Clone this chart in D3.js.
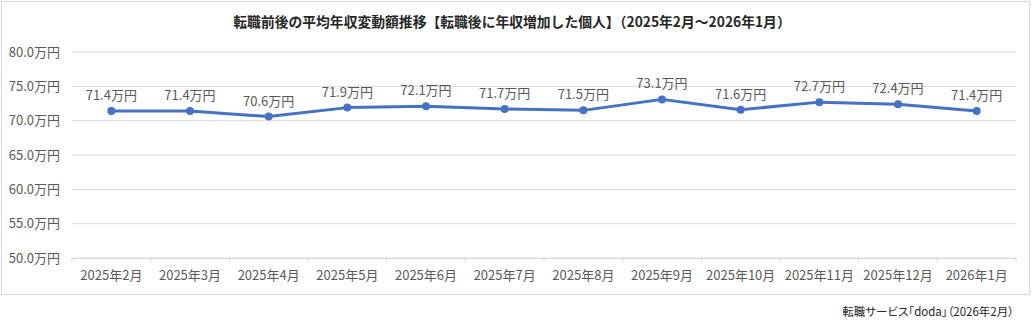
<!DOCTYPE html>
<html><head><meta charset="utf-8">
<script src="https://cdn.jsdelivr.net/npm/d3@7"></script>
<style>body{margin:0;background:#fff}svg{display:block}text{font-family:"Noto Sans CJK JP","Noto Sans",sans-serif}</style>
</head><body><svg id="c" width="1032" height="328"></svg>
<script>
const categories=["2025年2月","2025年3月","2025年4月","2025年5月","2025年6月","2025年7月","2025年8月","2025年9月","2025年10月","2025年11月","2025年12月","2026年1月"];
const values=[71.4,71.4,70.6,71.9,72.1,71.7,71.5,73.1,71.6,72.7,72.4,71.4];
const yTicks=[50,55,60,65,70,75,80];
const title="転職前後の平均年収変動額推移【転職後に年収増加した個人】（2025年2月～2026年1月）";
const source="転職サービス「doda」（2026年2月）";

const svg=d3.select("#c");
svg.append("rect").attr("x",1.5).attr("y",1.5).attr("width",1028).attr("height",293).attr("fill","#fff").attr("stroke","#d9d9d9");
const L=72,R=1016,T=52,B=258;
const x=d3.scaleBand().domain(categories).range([L,R]);
const y=d3.scaleLinear().domain([50,80]).range([B,T]);
const fmt=v=>v.toFixed(1)+"万円";

svg.append("g").selectAll("line").data(yTicks).join("line")
 .attr("x1",L).attr("x2",R).attr("y1",d=>y(d)).attr("y2",d=>y(d))
 .attr("stroke","#d9d9d9").attr("stroke-width",1);
svg.append("g").selectAll("text").data(yTicks).join("text")
 .attr("x",60).attr("y",d=>y(d)).attr("dy","0.35em").attr("text-anchor","end")
 .attr("font-size",13).attr("fill","#595959").text(fmt);
const xa=svg.append("g").attr("transform",`translate(0,${B})`)
 .call(d3.axisBottom(x).tickSize(0).tickPadding(13));
xa.select(".domain").attr("stroke","#d9d9d9");
xa.selectAll("text").attr("font-size",13).attr("fill","#595959").attr("font-family",'"Noto Sans CJK JP",sans-serif');
const bounds=categories.map(c=>x(c)).concat([R]);
svg.append("g").selectAll("line").data(bounds).join("line")
 .attr("x1",d=>d).attr("x2",d=>d).attr("y1",B).attr("y2",B+5).attr("stroke","#d9d9d9");

const cx=(d,i)=>x(categories[i])+x.bandwidth()/2;
svg.append("path").datum(values).attr("fill","none").attr("stroke","#4472C4").attr("stroke-width",3).attr("stroke-linejoin","round")
 .attr("d",d3.line().x((d,i)=>cx(d,i)).y(d=>y(d)));
svg.append("g").selectAll("circle").data(values).join("circle")
 .attr("cx",cx).attr("cy",d=>y(d)).attr("r",4).attr("fill","#4472C4");
svg.append("g").selectAll("text").data(values).join("text")
 .attr("x",cx).attr("y",d=>y(d)-11).attr("text-anchor","middle")
 .attr("font-size",13).attr("fill","#595959").text(fmt);

svg.append("text").attr("x",512).attr("y",27).attr("text-anchor","middle").attr("font-size",13.8).attr("font-weight","bold").attr("fill","#262626").text(title);
svg.append("text").attr("x",1014).attr("y",316).attr("text-anchor","end").attr("font-size",11.5).attr("fill","#262626").style("font-feature-settings",'"palt"').text(source);
</script></body></html>
